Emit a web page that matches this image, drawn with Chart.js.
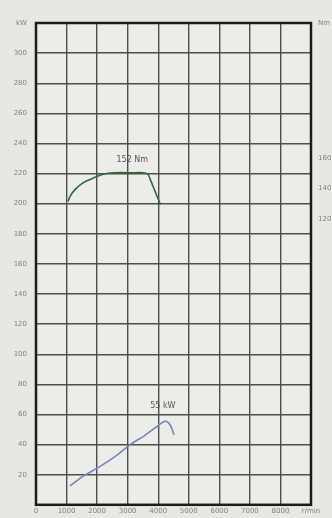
<!DOCTYPE html>
<html>
<head>
<meta charset="utf-8">
<script src="https://cdn.jsdelivr.net/npm/chart.js@4"></script>
<style>
  html, body { margin: 0; padding: 0; background: #e8e8e3; }
  #wrap { width: 332px; height: 518px; }
</style>
</head>
<body>
<div id="wrap"><canvas id="chart" width="332" height="518"></canvas></div>
<script>
// data
const rpmTicks = [0, 1000, 2000, 3000, 4000, 5000, 6000, 7000, 8000, 9000];
const torqueRpm = [1050, 1120, 1280, 1550, 1880, 2200, 2530, 3080, 3630, 3740, 3900, 4070];
const torqueNm = [131.5, 135, 139.5, 144, 147, 149.5, 150.5, 150.5, 150, 146, 138, 129.5];
const powerRpm = [1110, 1550, 2100, 2650, 3080, 3520, 3960, 4230, 4390, 4520];
const powerKw = [12.5, 19, 25.5, 33, 40, 45.5, 52, 55.5, 53, 46.5];
const torqueLabel = "152 Nm";
const powerLabel = "55 kW";

const gridColor = "#4e4e4c";
const textColor = "#7f7f7c";

const toPoints = (xs, ys) => xs.map((x, i) => ({ x: x, y: ys[i] }));

// background, frame and curve labels
const extras = {
  id: "extras",
  beforeDraw(chart) {
    const c = chart.ctx;
    const a = chart.chartArea;
    c.save();
    c.fillStyle = "#e8e8e3";
    c.fillRect(0, 0, chart.width, chart.height);
    c.fillStyle = "#ecece8";
    c.fillRect(a.left, a.top, a.right - a.left, a.bottom - a.top);
    c.restore();
  },
  afterDraw(chart) {
    const c = chart.ctx;
    const x = chart.scales.x;
    const a = chart.chartArea;
    c.save();
    c.strokeStyle = "#1c1c1c";
    c.lineWidth = 2.5;
    c.strokeRect(a.left, a.top, a.right - a.left, a.bottom - a.top);
    c.font = "8px 'DejaVu Sans'";
    c.fillStyle = "#555";
    c.textAlign = "center";
    c.fillText(torqueLabel, x.getPixelForValue(3150), chart.scales.y2.getPixelForValue(157.5));
    c.fillText(powerLabel, x.getPixelForValue(4150), chart.scales.y.getPixelForValue(64));
    c.restore();
  }
};

new Chart(document.getElementById("chart"), {
  type: "line",
  data: {
    datasets: [
      {
        label: "Torque",
        data: toPoints(torqueRpm, torqueNm),
        yAxisID: "y2",
        borderColor: "#2f6a3c",
        borderWidth: 1.6,
        pointRadius: 0,
        tension: 0.35,
      },
      {
        label: "Power",
        data: toPoints(powerRpm, powerKw),
        yAxisID: "y",
        borderColor: "#7289b5",
        borderWidth: 1.6,
        pointRadius: 0,
        tension: 0.3,
      },
    ],
  },
  options: {
    responsive: false,
    animation: false,
    layout: { padding: { top: 23, right: 0, bottom: 0, left: 0 } },
    plugins: { legend: { display: false }, tooltip: { enabled: false } },
    scales: {
      x: {
        type: "linear",
        min: 0,
        max: 9000,
        afterBuildTicks: (s) => { s.ticks = rpmTicks.map((v) => ({ value: v })); },
        afterFit: (s) => { s.height = 11; },
        grid: { color: gridColor, lineWidth: 1.4, drawTicks: false },
        border: { display: false },
        ticks: {
          color: textColor,
          font: { size: 7, family: "DejaVu Sans" },
          padding: 2,
          maxRotation: 0,
          autoSkip: false,
          callback: (v) => (v === 9000 ? "r/min" : String(v)),
        },
      },
      y: {
        position: "left",
        min: 0,
        max: 320,
        afterFit: (s) => { s.width = 36; },
        grid: { color: gridColor, lineWidth: 1.4, drawTicks: false },
        border: { display: false },
        ticks: {
          stepSize: 20,
          color: textColor,
          font: { size: 7, family: "DejaVu Sans" },
          padding: 9,
          callback: (v) => (v === 0 ? "" : v === 320 ? "kW" : String(v)),
        },
      },
      y2: {
        position: "right",
        min: -70,
        max: 250,
        afterBuildTicks: (s) => { s.ticks = [120, 140, 160, 250].map((v) => ({ value: v })); },
        afterFit: (s) => { s.width = 21; },
        grid: { display: false, drawTicks: false },
        border: { display: false },
        ticks: {
          color: textColor,
          font: { size: 7, family: "DejaVu Sans" },
          padding: 7,
          callback: (v) => (v === 250 ? "Nm" : String(v)),
        },
      },
    },
  },
  plugins: [extras],
});
</script>
</body>
</html>
